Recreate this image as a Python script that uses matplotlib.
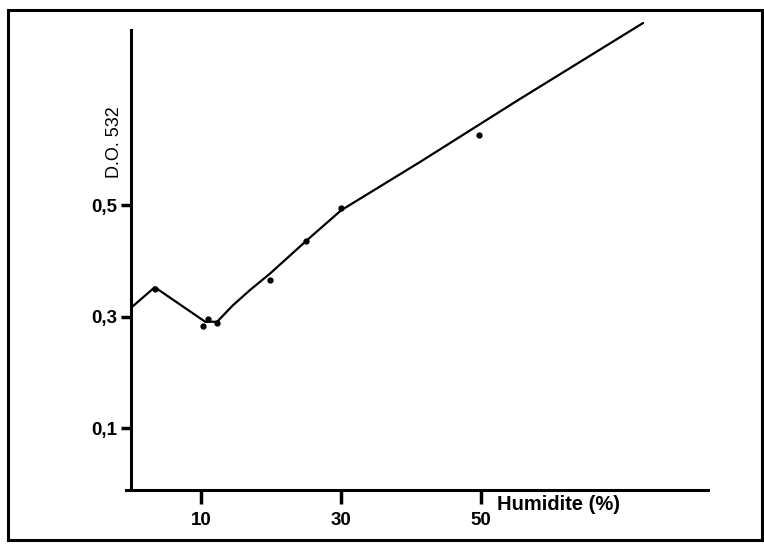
import numpy as np
import matplotlib
matplotlib.use("Agg")
import matplotlib.pyplot as plt
from matplotlib.patches import Rectangle

# measured points (humidity %, optical density at 532 nm)
hum_pts = [3.4, 10.3, 11.0, 12.3, 19.9, 25.0, 30.0, 49.7]
do_pts = [0.350, 0.283, 0.296, 0.289, 0.366, 0.436, 0.495, 0.626]

# hand-drawn curve through the points
hum_curve = [0.0, 3.4, 10.6, 12.3, 14.5, 17.0, 19.9, 25.0, 30.0, 41.3, 55.3, 73.1]
do_curve = [0.316, 0.353, 0.291, 0.291, 0.320, 0.348, 0.378, 0.436, 0.491, 0.578, 0.689, 0.827]

xticks = [10, 30, 50]
yticks = [0.1, 0.3, 0.5]
ytick_labels = ['0,1', '0,3', '0,5']

plt.rcParams['font.family'] = ['Liberation Sans', 'DejaVu Sans']

fig = plt.figure(figsize=(7.64, 5.47), dpi=100)
ax = fig.add_axes([0.165, 0.104, 0.762, 0.857])

ax.plot(hum_curve, do_curve, color='black', lw=1.6, solid_capstyle='round')
ax.plot(hum_pts, do_pts, 'o', color='black', ms=3.5)

ax.set_xlim(-0.7, 82.4)
ax.set_ylim(-0.011, 0.83)

for s in ['top', 'right']:
    ax.spines[s].set_visible(False)
ax.spines['left'].set_linewidth(2.2)
ax.spines['bottom'].set_linewidth(2.2)
ax.spines['left'].set_position(('data', 0))
ax.spines['left'].set_bounds(-0.011, 0.814)

ax.set_xticks(xticks)
ax.set_xticklabels([str(t) for t in xticks], fontsize=13.5, fontweight='bold')
ax.set_yticks(yticks)
ax.set_yticklabels(ytick_labels, fontsize=13.5, fontweight='bold')
ax.tick_params(axis='x', direction='out', length=10, width=2.5, pad=6)
ax.tick_params(axis='y', direction='out', length=7, width=2.5, pad=3)

ax.text(52.3, -0.036, 'Humidite (%)', fontsize=14.5, fontweight='bold',
        ha='left', va='center')
ax.text(-2.3, 0.613, 'D.O. 532', rotation=90, fontsize=13,
        ha='center', va='center')

# outer frame
fig.patches.append(Rectangle((0.0105, 0.0128), 0.9865, 0.969,
                             transform=fig.transFigure, fill=False,
                             edgecolor='black', lw=2.2))

fig.savefig('out.png', dpi=100)
